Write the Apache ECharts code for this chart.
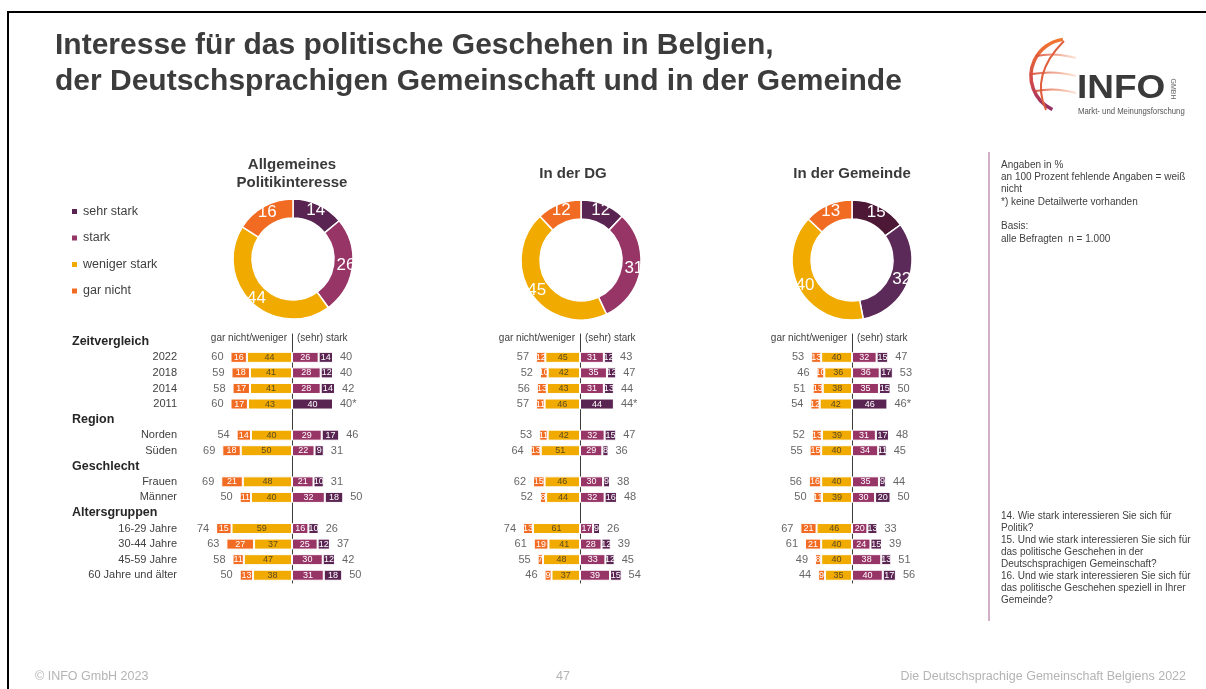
<!DOCTYPE html>
<html>
<head>
<meta charset="utf-8">
<title>Interesse für das politische Geschehen</title>
<script src="https://cdn.jsdelivr.net/npm/echarts@6/dist/echarts.min.js"></script>
<style>
  html, body { margin: 0; padding: 0; background: #fff; }
  #chart { width: 1206px; height: 689px; }
</style>
</head>
<body>
<div id="chart"></div>
<script>
  // Antwortstufen (Reihenfolge im Donut, im Uhrzeigersinn ab 12 Uhr)
  const levels = ['sehr stark', 'stark', 'weniger stark', 'gar nicht'];

  // Zeilen der Balkendiagramme
  const groupHeads = ['Zeitvergleich', 'Region', 'Geschlecht', 'Altersgruppen'];
  const groupStart = [0, 4, 6, 8];
  const rowItems = ['2022', '2018', '2014', '2011', 'Norden', 'Süden', 'Frauen', 'Männer',
                    '16-29 Jahre', '30-44 Jahre', '45-59 Jahre', '60 Jahre und älter'];

  // Donuts: sehr stark, stark, weniger stark, gar nicht
  const donutAllg = [14, 26, 44, 16];
  const donutDG = [12, 31, 45, 12];
  const donutGem = [15, 32, 40, 13];

  // Allgemeines Politikinteresse
  const allgGarNicht  = [16, 18, 17, 17, 14, 18, 21, 11, 15, 27, 11, 13];
  const allgWeniger   = [44, 41, 41, 43, 40, 50, 48, 40, 59, 37, 47, 38];
  const allgStark     = [26, 28, 28, 40, 29, 22, 21, 32, 16, 25, 30, 31];
  const allgSehrStark = [14, 12, 14, null, 17, 9, 10, 18, 10, 12, 12, 18];
  const allgLinks     = [60, 59, 58, 60, 54, 69, 69, 50, 74, 63, 58, 50];
  const allgRechts    = [40, 40, 42, 40, 46, 31, 31, 50, 26, 37, 42, 50];

  // In der DG
  const dgGarNicht  = [12, 10, 13, 11, 11, 13, 15, 8, 13, 19, 7, 9];
  const dgWeniger   = [45, 42, 43, 46, 42, 51, 46, 44, 61, 41, 48, 37];
  const dgStark     = [31, 35, 31, 44, 32, 29, 30, 32, 17, 28, 33, 39];
  const dgSehrStark = [12, 12, 13, null, 15, 8, 9, 16, 9, 12, 12, 15];
  const dgLinks     = [57, 52, 56, 57, 53, 64, 62, 52, 74, 61, 55, 46];
  const dgRechts    = [43, 47, 44, 44, 47, 36, 38, 48, 26, 39, 45, 54];

  // In der Gemeinde
  const gemGarNicht  = [13, 10, 13, 12, 13, 15, 16, 11, 21, 21, 8, 9];
  const gemWeniger   = [40, 36, 38, 42, 39, 40, 40, 39, 46, 40, 40, 35];
  const gemStark     = [32, 36, 35, 46, 31, 34, 35, 30, 20, 24, 38, 40];
  const gemSehrStark = [15, 17, 15, null, 17, 11, 9, 20, 13, 15, 13, 17];
  const gemLinks     = [53, 46, 51, 54, 52, 55, 56, 50, 67, 61, 49, 44];
  const gemRechts    = [47, 53, 50, 46, 48, 45, 44, 50, 33, 39, 51, 56];

  const COL = { gar: '#f26b23', weniger: '#f0aa00', stark: '#983567', sehr: '#5a2452' };
  const FONT = '"Liberation Sans", Arial, sans-serif';

  const panels = [
    { title: 'Allgemeines\nPolitikinteresse', titleX: 292, center: 292, scale: 1.025, pie: [293, 259],
      donut: donutAllg, pieCols: [COL.sehr, COL.stark, COL.weniger, COL.gar],
      garNicht: allgGarNicht, weniger: allgWeniger, stark: allgStark, sehrStark: allgSehrStark,
      links: allgLinks, rechts: allgRechts },
    { title: 'In der DG', titleX: 573, center: 580, scale: 0.77, pie: [581, 260],
      donut: donutDG, pieCols: [COL.sehr, COL.stark, COL.weniger, COL.gar],
      garNicht: dgGarNicht, weniger: dgWeniger, stark: dgStark, sehrStark: dgSehrStark,
      links: dgLinks, rechts: dgRechts },
    { title: 'In der Gemeinde', titleX: 852, center: 852, scale: 0.77, pie: [852, 260],
      donut: donutGem, pieCols: ['#4c1836', '#5b2a58', COL.weniger, COL.gar],
      garNicht: gemGarNicht, weniger: gemWeniger, stark: gemStark, sehrStark: gemSehrStark,
      links: gemLinks, rechts: gemRechts }
  ];

  // Kategorien inkl. Gruppenüberschriften
  const cats = [];
  const itemRow = [];
  groupHeads.forEach((h, g) => {
    cats.push(h);
    const end = g + 1 < groupStart.length ? groupStart[g + 1] : rowItems.length;
    for (let i = groupStart[g]; i < end; i++) {
      itemRow.push(cats.length);
      cats.push(rowItems[i]);
    }
  });

  function toRows(arr) {
    const out = cats.map(() => '-');
    arr.forEach((v, i) => { out[itemRow[i]] = v == null ? '-' : v; });
    return out;
  }

  const GRID_TOP = 334, GRID_H = 249;
  const grids = [], xAxes = [], yAxes = [], series = [], graphics = [];

  panels.forEach((p, i) => {
    const gLeft = p.center - 100 * p.scale;
    grids.push({ left: gLeft, width: 200 * p.scale, top: GRID_TOP, height: GRID_H,
                 containLabel: false, outerBoundsMode: 'none' });
    xAxes.push({ gridIndex: i, type: 'value', min: -100, max: 100, show: false });
    const yIdx = yAxes.length;
    yAxes.push({
      gridIndex: i, type: 'category', data: cats, inverse: true,
      axisLine: { show: true, onZero: true, lineStyle: { color: '#3c3c3c', width: 1 } },
      axisTick: { show: false }, splitLine: { show: false },
      axisLabel: i === 0 ? {
        interval: 0, margin: gLeft - 177, fontSize: 11, color: '#404040', fontFamily: FONT,
        formatter: v => groupHeads.includes(v) ? '' : v
      } : { show: false }
    });
    if (i === 0) {
      yAxes.push({
        gridIndex: 0, type: 'category', data: cats, inverse: true, position: 'left',
        axisLine: { show: false, onZero: false }, axisTick: { show: false },
        axisLabel: {
          interval: 0, align: 'left', margin: gLeft - 72, fontSize: 12.5, fontWeight: 'bold',
          color: '#262626', fontFamily: FONT,
          formatter: v => groupHeads.includes(v) ? v : ''
        }
      });
    }

    const barBase = {
      type: 'bar', xAxisIndex: i, yAxisIndex: yIdx, stack: 'p' + i, barWidth: 11,
      silent: true, animation: false
    };
    const lbl = color => ({
      show: true, position: 'inside', fontSize: 9, color: color, fontFamily: FONT,
      formatter: d => Math.abs(d.value)
    });
    series.push(Object.assign({}, barBase, {
      name: 'weniger stark', data: toRows(p.weniger.map(v => -v)),
      itemStyle: { color: COL.weniger, borderColor: '#fff', borderWidth: 1 }, label: lbl('#5b4a22')
    }));
    series.push(Object.assign({}, barBase, {
      name: 'gar nicht', data: toRows(p.garNicht.map(v => -v)),
      itemStyle: { color: COL.gar, borderColor: '#fff', borderWidth: 1 }, label: lbl('#fff')
    }));
    series.push(Object.assign({}, barBase, {
      name: 'stark',
      data: toRows(p.stark.map((v, k) => p.sehrStark[k] == null
        ? { value: v, itemStyle: { color: COL.sehr } } : v)),
      itemStyle: { color: COL.stark, borderColor: '#fff', borderWidth: 1 }, label: lbl('#fff')
    }));
    series.push(Object.assign({}, barBase, {
      name: 'sehr stark', data: toRows(p.sehrStark),
      itemStyle: { color: COL.sehr, borderColor: '#fff', borderWidth: 1 }, label: lbl('#fff')
    }));

    // Summen links und rechts
    const totBase = {
      type: 'scatter', xAxisIndex: i, yAxisIndex: yIdx, symbolSize: 2,
      itemStyle: { color: 'rgba(255,255,255,0)' }, silent: true, animation: false, z: 5
    };
    series.push(Object.assign({}, totBase, {
      data: p.links.map((t, k) => [-(p.garNicht[k] + p.weniger[k]), itemRow[k], t]),
      label: { show: true, position: 'left', distance: 6, fontSize: 11, color: '#404040',
               fontFamily: FONT, formatter: d => d.value[2] }
    }));
    series.push(Object.assign({}, totBase, {
      data: p.rechts.map((t, k) => [p.stark[k] + (p.sehrStark[k] || 0), itemRow[k],
                                    p.sehrStark[k] == null ? t + '*' : String(t)]),
      label: { show: true, position: 'right', distance: 6, fontSize: 11, color: '#404040',
               fontFamily: FONT, formatter: d => d.value[2] }
    }));

    // Donut
    series.push({
      type: 'pie', center: p.pie, radius: [41, 60], startAngle: 90, clockwise: true,
      silent: true, animation: false,
      data: levels.map((n, k) => ({ name: n, value: p.donut[k], itemStyle: { color: p.pieCols[k] } })),
      itemStyle: { borderColor: '#fff', borderWidth: 1.5 },
      label: { show: true, position: 'inside', color: '#fff', fontSize: 17, fontFamily: FONT,
               textBorderWidth: 0, formatter: '{c}' },
      labelLine: { show: false }
    });

    // Panel-Überschriften
    const tl = p.title.split('\n');
    tl.forEach((t, k) => {
      graphics.push({ type: 'text', x: p.titleX, y: tl.length > 1 ? 165 + k * 18 : 174,
        style: { text: t, fontSize: 15, fontWeight: 'bold', fill: '#3a3a3a', fontFamily: FONT,
                 align: 'center', verticalAlign: 'middle' } });
    });
    graphics.push({ type: 'text', x: p.center - 5, y: 338,
      style: { text: 'gar nicht/weniger', fontSize: 10, fill: '#404040', fontFamily: FONT,
               align: 'right', verticalAlign: 'middle' } });
    graphics.push({ type: 'text', x: p.center + 5, y: 338,
      style: { text: '(sehr) stark', fontSize: 10, fill: '#404040', fontFamily: FONT,
               align: 'left', verticalAlign: 'middle' } });
  });

  // Rahmen
  graphics.push({ type: 'rect', shape: { x: 8, y: 12, width: 1260, height: 720 },
    style: { fill: 'none', stroke: '#000', lineWidth: 2 } });

  // Haupttitel
  ['Interesse für das politische Geschehen in Belgien,',
   'der Deutschsprachigen Gemeinschaft und in der Gemeinde'].forEach((t, k) => {
    graphics.push({ type: 'text', x: 55, y: 46 + k * 36,
      style: { text: t, fontSize: 30, fontWeight: 'bold', fill: '#3c3c3c', fontFamily: FONT,
               align: 'left', verticalAlign: 'middle' } });
  });

  // Hinweise rechts
  graphics.push({ type: 'line', shape: { x1: 989, y1: 152, x2: 989, y2: 621 },
    style: { stroke: '#c493b4', lineWidth: 1.5 } });
  const noteTop = ['Angaben in %', 'an 100 Prozent fehlende Angaben = weiß', 'nicht',
                   '*) keine Detailwerte vorhanden', '', 'Basis:', 'alle Befragten  n = 1.000'];
  noteTop.forEach((t, k) => {
    graphics.push({ type: 'text', x: 1001, y: 165 + k * 12.3,
      style: { text: t, fontSize: 10, fill: '#404040', fontFamily: FONT, verticalAlign: 'middle' } });
  });
  const noteBottom = ['14. Wie stark interessieren Sie sich für', 'Politik?',
    '15. Und wie stark interessieren Sie sich für', 'das politische Geschehen in der',
    'Deutschsprachigen Gemeinschaft?', '16. Und wie stark interessieren Sie sich für',
    'das politische Geschehen speziell in Ihrer', 'Gemeinde?'];
  noteBottom.forEach((t, k) => {
    graphics.push({ type: 'text', x: 1001, y: 516 + k * 12.1,
      style: { text: t, fontSize: 10, fill: '#404040', fontFamily: FONT, verticalAlign: 'middle' } });
  });

  // Fußzeile
  [['© INFO GmbH 2023', 35, 'left'], ['47', 563, 'center'],
   ['Die Deutschsprachige Gemeinschaft Belgiens 2022', 1186, 'right']].forEach(f => {
    graphics.push({ type: 'text', x: f[1], y: 677,
      style: { text: f[0], fontSize: 12.5, fill: '#b4b4b4', fontFamily: FONT,
               align: f[2], verticalAlign: 'middle' } });
  });

  // Logo
  const globe = new echarts.graphic.LinearGradient(0, 0, 0, 1, [
    { offset: 0, color: '#f27a2c' }, { offset: 0.6, color: '#d2484a' }, { offset: 1, color: '#8e2c68' }]);
  graphics.push({ type: 'arc', shape: { cx: 1068, cy: 76, r: 37, startAngle: 115 * Math.PI / 180,
    endAngle: 262 * Math.PI / 180, clockwise: true }, style: { stroke: globe, lineWidth: 3.5, fill: null } });
  graphics.push({ type: 'bezierCurve', shape: { x1: 1064, y1: 41, cpx1: 1030, cpy1: 75, x2: 1046, y2: 110 },
    style: { stroke: '#e0603e', lineWidth: 2, fill: null } });
  [[1036, 56], [1032, 74], [1036, 91]].forEach(l => {
    graphics.push({ type: 'bezierCurve',
      shape: { x1: l[0], y1: l[1], cpx1: 1055, cpy1: l[1] - 4, x2: 1076, y2: l[1] + 2 },
      style: { stroke: new echarts.graphic.LinearGradient(0, 0, 1, 0, [
        { offset: 0, color: '#d9503f' }, { offset: 1, color: 'rgba(240,120,60,0.15)' }]),
        lineWidth: 2, fill: null } });
  });
  graphics.push({ type: 'text', x: 1077, y: 89, scaleX: 1.12,
    style: { text: 'INFO', fontSize: 33, fontWeight: 'bold', fill: '#3a3a3a', fontFamily: FONT,
             verticalAlign: 'middle' } });
  graphics.push({ type: 'text', x: 1173, y: 89, rotation: -Math.PI / 2,
    style: { text: 'GMBH', fontSize: 7, fill: '#6a6a6a', fontFamily: FONT,
             align: 'center', verticalAlign: 'middle' } });
  graphics.push({ type: 'text', x: 1078, y: 112, scaleX: 0.86,
    style: { text: 'Markt- und Meinungsforschung', fontSize: 9, fill: '#555', fontFamily: FONT,
             verticalAlign: 'middle' } });

  const chart = echarts.init(document.getElementById('chart'));
  chart.setOption({
    animation: false,
    textStyle: { fontFamily: FONT },
    legend: {
      orient: 'vertical', left: 70, top: 205, padding: 0, icon: 'rect', itemWidth: 7, itemHeight: 7,
      itemGap: 13.5, selectedMode: false,
      textStyle: { fontSize: 12.5, color: '#404040', fontFamily: FONT },
      data: levels.map(n => ({ name: n, itemStyle: {
        color: { 'sehr stark': COL.sehr, 'stark': COL.stark, 'weniger stark': COL.weniger, 'gar nicht': COL.gar }[n] } }))
    },
    grid: grids,
    xAxis: xAxes,
    yAxis: yAxes,
    series: series,
    graphic: graphics
  });
</script>
</body>
</html>
